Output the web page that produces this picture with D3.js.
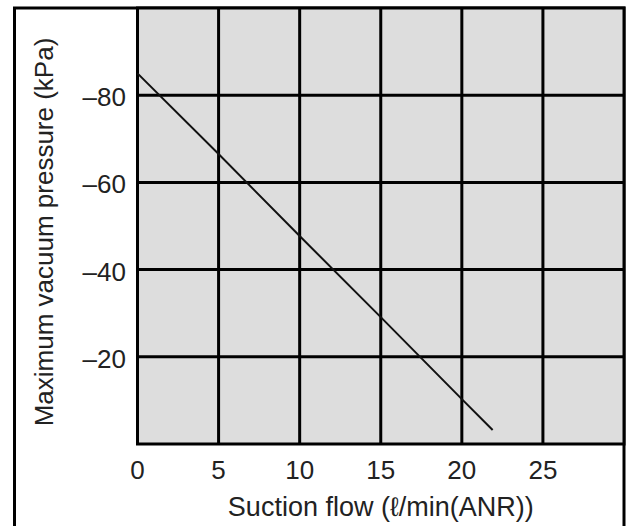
<!DOCTYPE html>
<html>
<head>
<meta charset="utf-8">
<script src="https://cdn.jsdelivr.net/npm/d3@7"></script>
<style>
  body { margin: 0; background: #fff; }
  text { font-family: Arial, "Liberation Sans", sans-serif; fill: #222; }
</style>
</head>
<body>
<div id="chart"></div>
<script>
// values
var flow = [0, 5, 10, 15, 20, 21.9];
var pressure = [-85, -66.5, -47.7, -29.1, -10.3, -3.2];
var xTicks = [0, 5, 10, 15, 20, 25];
var yTicks = [-20, -40, -60, -80];

var width = 629,
  height = 526;

var plot = { left: 137.5, top: 8, right: 624, bottom: 444 };

var svg = d3.select('#chart')
  .append('svg')
  .attr('width', width)
  .attr('height', height)

var x = d3.scaleLinear().domain([0, 30]).range([plot.left, plot.right])
var y = d3.scaleLinear().domain([0, -100]).range([plot.bottom, plot.top])

// outer frame (bottom edge runs off the picture)
svg.append('rect')
  .attr('x', 14.5)
  .attr('y', 8)
  .attr('width', plot.right - 14.5)
  .attr('height', 540)
  .attr('fill', 'none')
  .attr('stroke', '#000')
  .attr('stroke-width', 3)

// plot background
svg.append('rect')
  .attr('x', plot.left)
  .attr('y', plot.top)
  .attr('width', plot.right - plot.left)
  .attr('height', plot.bottom - plot.top)
  .attr('fill', '#dddddd')

// grid
svg.selectAll('.vgrid')
  .data(xTicks.filter(d => d > 0))
  .join('line')
  .attr('class', 'vgrid')
  .attr('x1', d => x(d))
  .attr('x2', d => x(d))
  .attr('y1', plot.top)
  .attr('y2', plot.bottom)
  .attr('stroke', '#000')
  .attr('stroke-width', 3)

svg.selectAll('.hgrid')
  .data(yTicks)
  .join('line')
  .attr('class', 'hgrid')
  .attr('x1', plot.left)
  .attr('x2', plot.right)
  .attr('y1', d => y(d))
  .attr('y2', d => y(d))
  .attr('stroke', '#000')
  .attr('stroke-width', 3)

// plot border
svg.append('rect')
  .attr('x', plot.left)
  .attr('y', plot.top)
  .attr('width', plot.right - plot.left)
  .attr('height', plot.bottom - plot.top)
  .attr('fill', 'none')
  .attr('stroke', '#000')
  .attr('stroke-width', 3)

// the curve
var line = d3.line()
  .x((d, i) => x(flow[i]))
  .y(d => y(d))

svg.append('path')
  .datum(pressure)
  .attr('d', line)
  .attr('fill', 'none')
  .attr('stroke', '#111')
  .attr('stroke-width', 2)

// tick labels
svg.selectAll('.xlab')
  .data(xTicks)
  .join('text')
  .attr('class', 'xlab')
  .attr('x', d => x(d))
  .attr('y', 479)
  .attr('text-anchor', 'middle')
  .style('font-size', '26px')
  .text(d => d)

svg.selectAll('.ylab')
  .data(yTicks)
  .join('text')
  .attr('class', 'ylab')
  .attr('x', 126)
  .attr('y', d => y(d) + 11)
  .attr('text-anchor', 'end')
  .style('font-size', '26px')
  .text(d => '\u2013' + Math.abs(d))

// axis titles
svg.append('text')
  .attr('x', (plot.left + plot.right) / 2)
  .attr('y', 516)
  .attr('text-anchor', 'middle')
  .style('font-size', '27px')
  .text('Suction flow (\u2113/min(ANR))')

svg.append('text')
  .attr('transform', 'translate(53,232) rotate(-90)')
  .attr('text-anchor', 'middle')
  .style('font-size', '26px')
  .text('Maximum vacuum pressure (kPa)')
</script>
</body>
</html>
